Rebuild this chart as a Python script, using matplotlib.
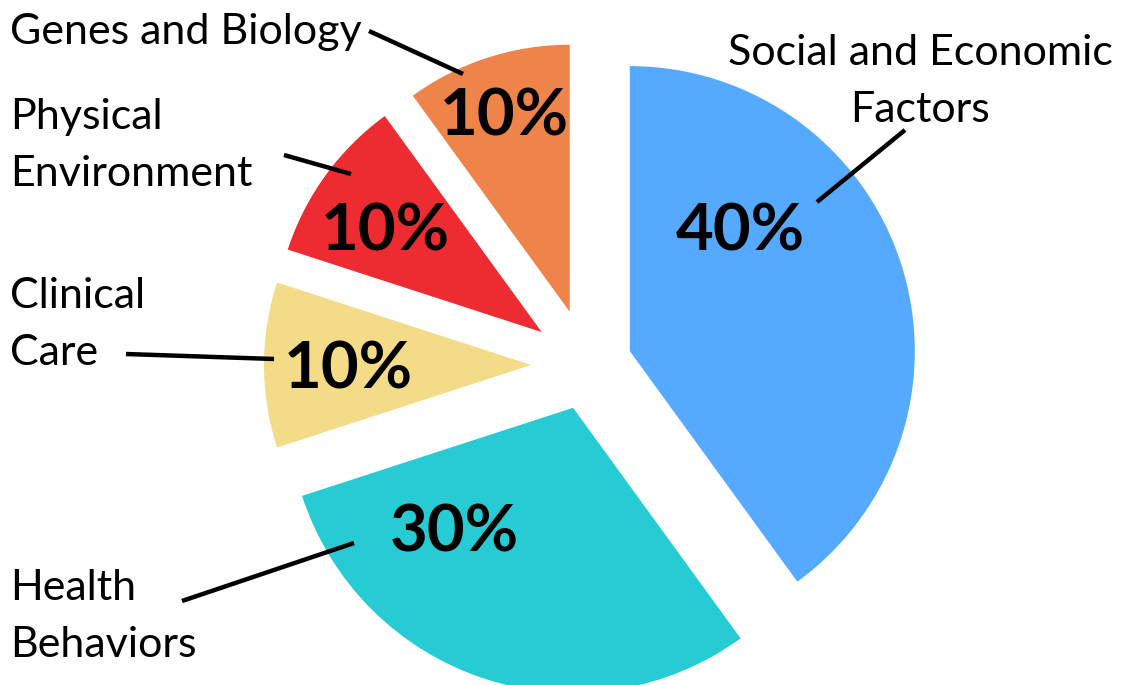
import matplotlib.pyplot as plt

W, H = 1124, 685

# data: slices clockwise from 12 o'clock
categories = ['Social and Economic\nFactors', 'Health\nBehaviors', 'Clinical\nCare',
              'Physical\nEnvironment', 'Genes and Biology']
shares = [40, 30, 10, 10, 10]
colors = ['#55AAFF', '#26CBD3', '#F3DB87', '#EE2B30', '#EE844A']

# layout (image pixel coords, y down); label y = baseline of last line
center = (587, 365)
big_r, small_r = 285, 267
explode_px = [45, 45, 56, 56, 56]
pct_pos = [(740, 250), (454, 551), (348, 388), (385, 250), (504, 135)]
label_pos = [(920, 122), (10, 657), (10, 365), (10, 186), (10, 44)]
label_ha = ['center', 'left', 'left', 'left', 'left']
leader = [((817, 202), (905, 130)), ((354, 543), (182, 601)), ((274, 359), (126, 354)),
          ((351, 174), (284, 155)), ((463, 74), (369, 31))]

plt.rcParams['font.family'] = ['Lato', 'DejaVu Sans']

fig = plt.figure(figsize=(W / 100, H / 100), dpi=100)
ax = fig.add_axes([0, 0, 1, 1])

# explode is in data units here (radius is not 1)
wedges, _ = ax.pie(shares, colors=colors, startangle=90, counterclock=False,
                   radius=big_r, center=(center[0], H - center[1]),
                   explode=explode_px, wedgeprops=dict(linewidth=0))
for w, s in zip(wedges, shares):
    if s <= 10:
        w.set_radius(small_r)

ax.set_xlim(0, W)
ax.set_ylim(0, H)
ax.set_aspect('equal')
ax.axis('off')

for s, (x, y) in zip(shares, pct_pos):
    ax.text(x, H - y, f'{s}%', ha='center', va='baseline', fontsize=47,
            fontweight='bold', color='black')

for lab, (x, y), ha in zip(categories, label_pos, label_ha):
    ax.text(x, H - y, lab, ha=ha, va='baseline', fontsize=31, color='black',
            linespacing=1.62, multialignment='center' if ha == 'center' else 'left')

for (x0, y0), (x1, y1) in leader:
    ax.plot([x0, x1], [H - y0, H - y1], color='black', lw=3.2, solid_capstyle='butt')

fig.savefig('out.png', dpi=100)
